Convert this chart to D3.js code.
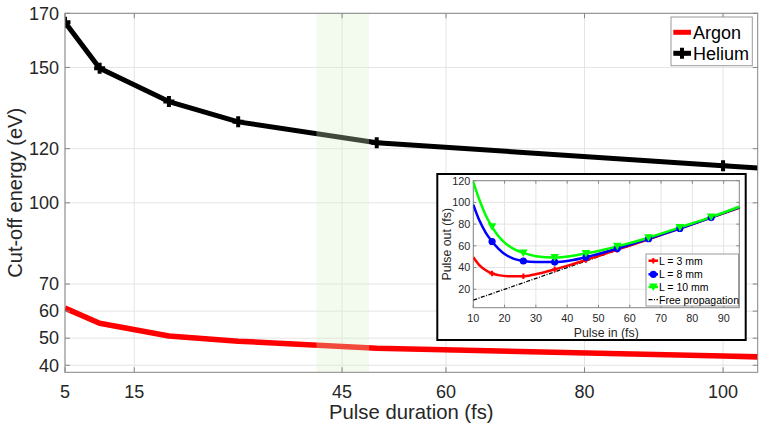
<!DOCTYPE html>
<html><head><meta charset="utf-8">
<script src="https://cdn.jsdelivr.net/npm/d3@7"></script>
<style>
html,body{margin:0;padding:0;background:#fff;}
svg{display:block;font-family:"Liberation Sans",Arial,sans-serif;}
</style></head>
<body><svg id="c" width="765" height="434"></svg>
<script>
// ---- main chart data ----
const pulseDuration = [5, 10, 20, 30, 50, 100, 110];
const heliumCutoff = [166.7, 149.7, 137.4, 129.9, 122.2, 113.7, 112.0];
const argonCutoff = [61.1, 55.5, 50.8, 48.9, 46.3, 43.4, 42.8];
const heliumMarkerX = [5, 10, 20, 30, 50, 100];
const xTicks = [5, 15, 45, 60, 80, 100];
const yTicks = [40, 50, 60, 70, 100, 120, 150, 170];
const band = [41.3, 48.9];
const seriesNames = ["Argon", "Helium"];

// ---- inset data ----
const l3x = [10,12,14,16,18,21,26,31,36,41,46,56,66,76,86,95];
const l3y = [49.5,42,37.5,34.5,33,32,32,34.5,38.3,42.5,47,56.5,66,76,86,95];
const l8x = [10,12,14,16,18,20,23,26,30,36,41,46,56,66,76,86,95];
const l8y = [98,83,72,64,57.5,52.5,48,46,45,45,46.5,49.5,57.5,66.5,76,86,95.5];
const l10x = [10,12,14,16,18,20,23,26,30,36,41,46,51,56,66,76,86,95];
const l10y = [119,102,88,77.5,69,63,57,53.5,50.5,49.3,50.5,53,56,59.5,67.5,77,86.5,96];
const freeX = [10, 95];
const freeY = [10, 95];
const insetMarkerX = [16,26,36,46,56,66,76,86];
const insetXTicks = [10,20,30,40,50,60,70,80,90];
const insetYTicks = [20,40,60,80,100,120];
const insetNames = ["L = 3 mm", "L = 8 mm", "L = 10 mm", "Free propagation"];

const svg = d3.select("#c");
const TXT = "#262626", AX = "#858585", GRID = "#e4e4e4";

// ===== main axes =====
const L = 65, R = 757.7, T = 13.3, B = 372.3;
const x = d3.scaleLinear([5, 105], [L, R]);
const y = d3.scaleLinear([37.4, 170], [B, T]);

svg.append("defs").append("clipPath").attr("id","mclip")
  .append("rect").attr("x",L).attr("y",T).attr("width",R-L).attr("height",B-T);

const g = svg.append("g");
// grid
g.selectAll(".vg").data(xTicks).join("line")
  .attr("x1",d=>x(d)).attr("x2",d=>x(d)).attr("y1",T).attr("y2",B)
  .attr("stroke",GRID).attr("stroke-width",1);
g.selectAll(".hg").data(yTicks).join("line")
  .attr("y1",d=>y(d)).attr("y2",d=>y(d)).attr("x1",L).attr("x2",R)
  .attr("stroke",GRID).attr("stroke-width",1);

// lines
const lineGen = d3.line().x(d=>x(d[0])).y(d=>y(d[1]));
const plot = g.append("g").attr("clip-path","url(#mclip)");
plot.append("path").datum(pulseDuration.map((p,i)=>[p,argonCutoff[i]]))
  .attr("d",lineGen).attr("fill","none").attr("stroke","#ff0000").attr("stroke-width",5.5)
  .attr("stroke-linejoin","round");
plot.append("path").datum(pulseDuration.map((p,i)=>[p,heliumCutoff[i]]))
  .attr("d",lineGen).attr("fill","none").attr("stroke","#000").attr("stroke-width",5)
  .attr("stroke-linejoin","round");
const plusPath = (cx,cy,s)=>`M${cx-s},${cy}H${cx+s}M${cx},${cy-s}V${cy+s}`;
plot.selectAll(".hm").data(heliumMarkerX).join("path")
  .attr("d",d=>plusPath(x(d), y(heliumCutoff[pulseDuration.indexOf(d)]), 5.5))
  .attr("stroke","#000").attr("stroke-width",4).attr("fill","none");

// band (drawn above lines)
g.append("rect").attr("x",x(band[0])).attr("width",x(band[1])-x(band[0]))
  .attr("y",T).attr("height",B-T).attr("fill","rgb(215,242,200)").attr("opacity",0.3);

// axes frame + ticks
const axG = g.append("g");
axG.append("rect").attr("x",L).attr("y",T).attr("width",R-L).attr("height",B-T)
  .attr("fill","none").attr("stroke",AX).attr("stroke-width",1);
const tl = 5;
xTicks.forEach(t=>{
  axG.append("line").attr("x1",x(t)).attr("x2",x(t)).attr("y1",B).attr("y2",B-tl).attr("stroke",AX);
  axG.append("line").attr("x1",x(t)).attr("x2",x(t)).attr("y1",T).attr("y2",T+tl).attr("stroke",AX);
});
yTicks.forEach(t=>{
  axG.append("line").attr("y1",y(t)).attr("y2",y(t)).attr("x1",L).attr("x2",L+tl).attr("stroke",AX);
  axG.append("line").attr("y1",y(t)).attr("y2",y(t)).attr("x1",R).attr("x2",R-tl).attr("stroke",AX);
});
// tick labels
g.selectAll(".xl").data(xTicks).join("text")
  .attr("x",d=>x(d)).attr("y",397.5).attr("text-anchor","middle")
  .attr("font-size",18).attr("fill",TXT).text(d=>d);
g.selectAll(".yl").data(yTicks).join("text")
  .attr("x",L-6).attr("y",d=>y(d)+6.3).attr("text-anchor","end")
  .attr("font-size",18).attr("fill",TXT).text(d=>d);
// axis labels
g.append("text").attr("x",(L+R)/2).attr("y",418.5).attr("text-anchor","middle")
  .attr("font-size",20.3).attr("fill",TXT).text("Pulse duration (fs)");
g.append("text").attr("transform",`translate(21.5,${(T+B)/2}) rotate(-90)`)
  .attr("text-anchor","middle").attr("font-size",20).attr("fill",TXT).text("Cut-off energy (eV)");

// legend
const lg = g.append("g");
lg.append("rect").attr("x",671).attr("y",17).attr("width",81.3).attr("height",48.7)
  .attr("fill","#fff").attr("stroke","#9a9a9a").attr("stroke-width",1);
const legRows = [32.3, 53.3];
lg.append("line").attr("x1",673.3).attr("x2",691).attr("y1",legRows[0]).attr("y2",legRows[0])
  .attr("stroke","#ff0000").attr("stroke-width",5);
lg.append("line").attr("x1",673.3).attr("x2",691).attr("y1",legRows[1]).attr("y2",legRows[1])
  .attr("stroke","#000").attr("stroke-width",5);
lg.append("path").attr("d",plusPath(682,legRows[1],5.5)).attr("stroke","#000").attr("stroke-width",4);
seriesNames.forEach((n,i)=>{
  lg.append("text").attr("x",693).attr("y",legRows[i]+6.3).attr("font-size",18)
    .attr("fill","#000").text(n);
});

// ===== inset =====
const ig = svg.append("g");
ig.append("rect").attr("x",437.3).attr("y",174).attr("width",308.4).attr("height",166)
  .attr("fill","#fff").attr("stroke","#000").attr("stroke-width",2);
const iL = 473.3, iR = 739.3, iT = 180.7, iB = 307.7;
const ix = d3.scaleLinear([10, 95], [iL, iR]);
const iy = d3.scaleLinear([3, 120], [iB, iT]);
svg.select("defs").append("clipPath").attr("id","iclip")
  .append("rect").attr("x",iL).attr("y",iT-3).attr("width",iR-iL+2).attr("height",iB-iT+3);

ig.selectAll(".ivg").data(insetXTicks).join("line")
  .attr("x1",d=>ix(d)).attr("x2",d=>ix(d)).attr("y1",iT).attr("y2",iB)
  .attr("stroke",GRID).attr("stroke-width",1);
ig.selectAll(".ihg").data(insetYTicks).join("line")
  .attr("y1",d=>iy(d)).attr("y2",d=>iy(d)).attr("x1",iL).attr("x2",iR)
  .attr("stroke",GRID).attr("stroke-width",1);
ig.append("rect").attr("x",iL).attr("y",iT).attr("width",iR-iL).attr("height",iB-iT)
  .attr("fill","none").attr("stroke",AX).attr("stroke-width",1);
const itl = 3;
insetXTicks.forEach(t=>{
  ig.append("line").attr("x1",ix(t)).attr("x2",ix(t)).attr("y1",iB).attr("y2",iB-itl).attr("stroke",AX);
  ig.append("line").attr("x1",ix(t)).attr("x2",ix(t)).attr("y1",iT).attr("y2",iT+itl).attr("stroke",AX);
});
insetYTicks.forEach(t=>{
  ig.append("line").attr("y1",iy(t)).attr("y2",iy(t)).attr("x1",iL).attr("x2",iL+itl).attr("stroke",AX);
  ig.append("line").attr("y1",iy(t)).attr("y2",iy(t)).attr("x1",iR).attr("x2",iR-itl).attr("stroke",AX);
});
ig.selectAll(".ixl").data(insetXTicks).join("text")
  .attr("x",d=>ix(d)).attr("y",321.5).attr("text-anchor","middle")
  .attr("font-size",10.8).attr("fill",TXT).text(d=>d);
ig.selectAll(".iyl").data(insetYTicks).join("text")
  .attr("x",iL-3).attr("y",d=>iy(d)+3.8).attr("text-anchor","end")
  .attr("font-size",10.8).attr("fill",TXT).text(d=>d);
ig.append("text").attr("x",(iL+iR)/2).attr("y",337).attr("text-anchor","middle")
  .attr("font-size",12.3).attr("fill",TXT).text("Pulse in (fs)");
ig.append("text").attr("transform",`translate(450.5,${(iT+iB)/2}) rotate(-90)`)
  .attr("text-anchor","middle").attr("font-size",12.3).attr("fill",TXT).text("Pulse out (fs)");

const iLine = d3.line().x(d=>ix(d[0])).y(d=>iy(d[1])).curve(d3.curveMonotoneX);
const ip = ig.append("g").attr("clip-path","url(#iclip)");
const zipS = (xs,ys)=>xs.map((v,i)=>[v,ys[i]]);
ip.append("path").datum(zipS(freeX,freeY)).attr("d",d3.line().x(d=>ix(d[0])).y(d=>iy(d[1])))
  .attr("fill","none").attr("stroke","#000").attr("stroke-width",1.3).attr("stroke-dasharray","4,1.5,1,1.5");
const series = [
  {xs:l3x, ys:l3y, color:"#ff0000", mk:"plus"},
  {xs:l8x, ys:l8y, color:"#0000ff", mk:"circle"},
  {xs:l10x, ys:l10y, color:"#00ff00", mk:"tri"}
];
function marker(sel, kind, cx, cy, color){
  if(kind==="plus") sel.append("path").attr("d",plusPath(cx,cy,2.8)).attr("stroke",color).attr("stroke-width",2);
  else if(kind==="circle") sel.append("circle").attr("cx",cx).attr("cy",cy).attr("r",3.6).attr("fill",color);
  else sel.append("path").attr("d",`M${cx-4.3},${cy-3.5}L${cx+4.3},${cy-3.5}L${cx},${cy+4}Z`).attr("fill",color);
}
series.forEach(s=>{
  ip.append("path").datum(zipS(s.xs,s.ys)).attr("d",iLine)
    .attr("fill","none").attr("stroke",s.color).attr("stroke-width",2.5);
});
series.forEach(s=>{
  insetMarkerX.forEach(mx=>{
    const i = s.xs.indexOf(mx);
    if(i>=0) marker(ip, s.mk, ix(mx), iy(s.ys[i]), s.color);
  });
});

// inset legend
const il = ig.append("g");
il.append("rect").attr("x",646).attr("y",254).attr("width",92.5).attr("height",52)
  .attr("fill","#fff").attr("stroke","#9a9a9a").attr("stroke-width",1);
const iRows = [260.7, 274.3, 287, 299.7];
series.forEach((s,i)=>{
  il.append("line").attr("x1",648.5).attr("x2",658).attr("y1",iRows[i]).attr("y2",iRows[i])
    .attr("stroke",s.color).attr("stroke-width",2.5);
  marker(il, s.mk, 653.3, iRows[i], s.color);
});
il.append("line").attr("x1",648.5).attr("x2",658).attr("y1",iRows[3]).attr("y2",iRows[3])
  .attr("stroke","#000").attr("stroke-width",1.3).attr("stroke-dasharray","4,1.5,1,1.5");
insetNames.forEach((n,i)=>{
  il.append("text").attr("x",659).attr("y",iRows[i]+3.8).attr("font-size",10.5)
    .attr("fill","#000").text(n);
});
</script></body></html>
